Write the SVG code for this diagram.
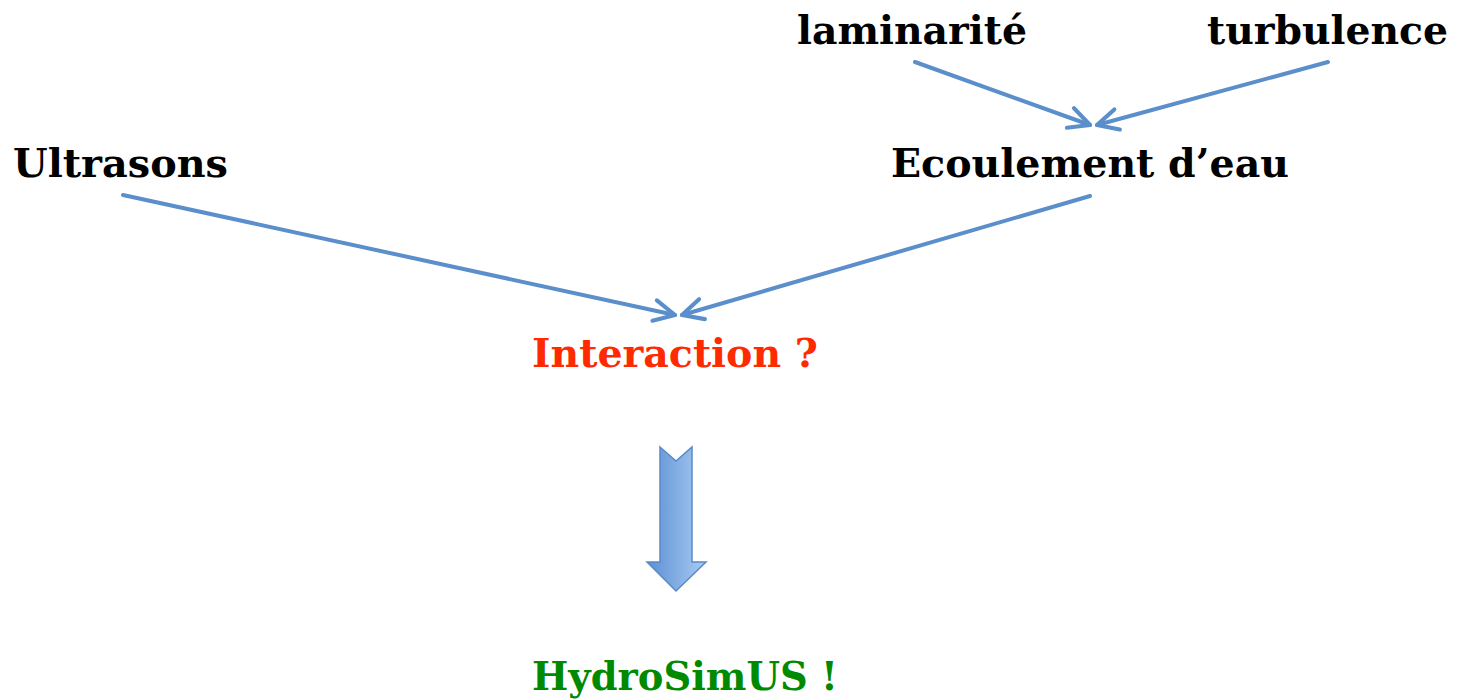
<svg xmlns="http://www.w3.org/2000/svg" width="1460" height="700" viewBox="0 0 1460 700">
<style>
.t{font-family:"DejaVu Serif","Liberation Serif",serif;font-weight:bold;font-size:39.5px;fill:#000}
.c{stroke:#5b8fcb;stroke-width:4;fill:none;stroke-linecap:round;stroke-linejoin:round}
</style>
<defs>
<marker id="ah" viewBox="0 0 20 20" refX="18" refY="10" markerWidth="6.5" markerHeight="6.5" markerUnits="strokeWidth" orient="auto">
<path d="M2,2 L18,10 L2,18" fill="none" stroke="#5b8fcb" stroke-width="3.2" stroke-linecap="round" stroke-linejoin="round"/>
</marker>
<linearGradient id="g" x1="0" y1="0" x2="1" y2="0">
<stop offset="0" stop-color="#5b8fd3"/>
<stop offset="1" stop-color="#aacbf3"/>
</linearGradient>
</defs>
<rect width="1460" height="700" fill="#fff"/>
<g id="laminarite"><text class="t" x="797" y="44" textLength="230" lengthAdjust="spacingAndGlyphs">laminarité</text></g>
<g id="turbulence"><text class="t" x="1207" y="44" textLength="241" lengthAdjust="spacingAndGlyphs">turbulence</text></g>
<g id="ultrasons"><text class="t" x="13" y="177" textLength="215" lengthAdjust="spacingAndGlyphs">Ultrasons</text></g>
<g id="ecoulement"><text class="t" x="891" y="177" textLength="398" lengthAdjust="spacingAndGlyphs">Ecoulement d’eau</text></g>
<g id="interaction"><text class="t" x="532" y="367" textLength="286" lengthAdjust="spacingAndGlyphs" style="fill:#ff2a00">Interaction ?</text></g>
<g id="hydrosimus"><text class="t" x="532" y="690" textLength="306" lengthAdjust="spacingAndGlyphs" style="fill:#008a00">HydroSimUS !</text></g>
<g id="connectors">
<line class="c" x1="915" y1="62" x2="1090" y2="125" marker-end="url(#ah)"/>
<line class="c" x1="1328" y1="62" x2="1097" y2="125" marker-end="url(#ah)"/>
<line class="c" x1="123" y1="195" x2="675" y2="315" marker-end="url(#ah)"/>
<line class="c" x1="1090" y1="196" x2="682" y2="315" marker-end="url(#ah)"/>
</g>
<g id="blockarrow">
<path d="M660,447 L676,461 L692,447 L692,562 L706,562 L676,591 L647,562 L660,562 Z" fill="url(#g)" stroke="#5a8ac8" stroke-width="1.5" stroke-linejoin="miter"/>
</g>
</svg>
